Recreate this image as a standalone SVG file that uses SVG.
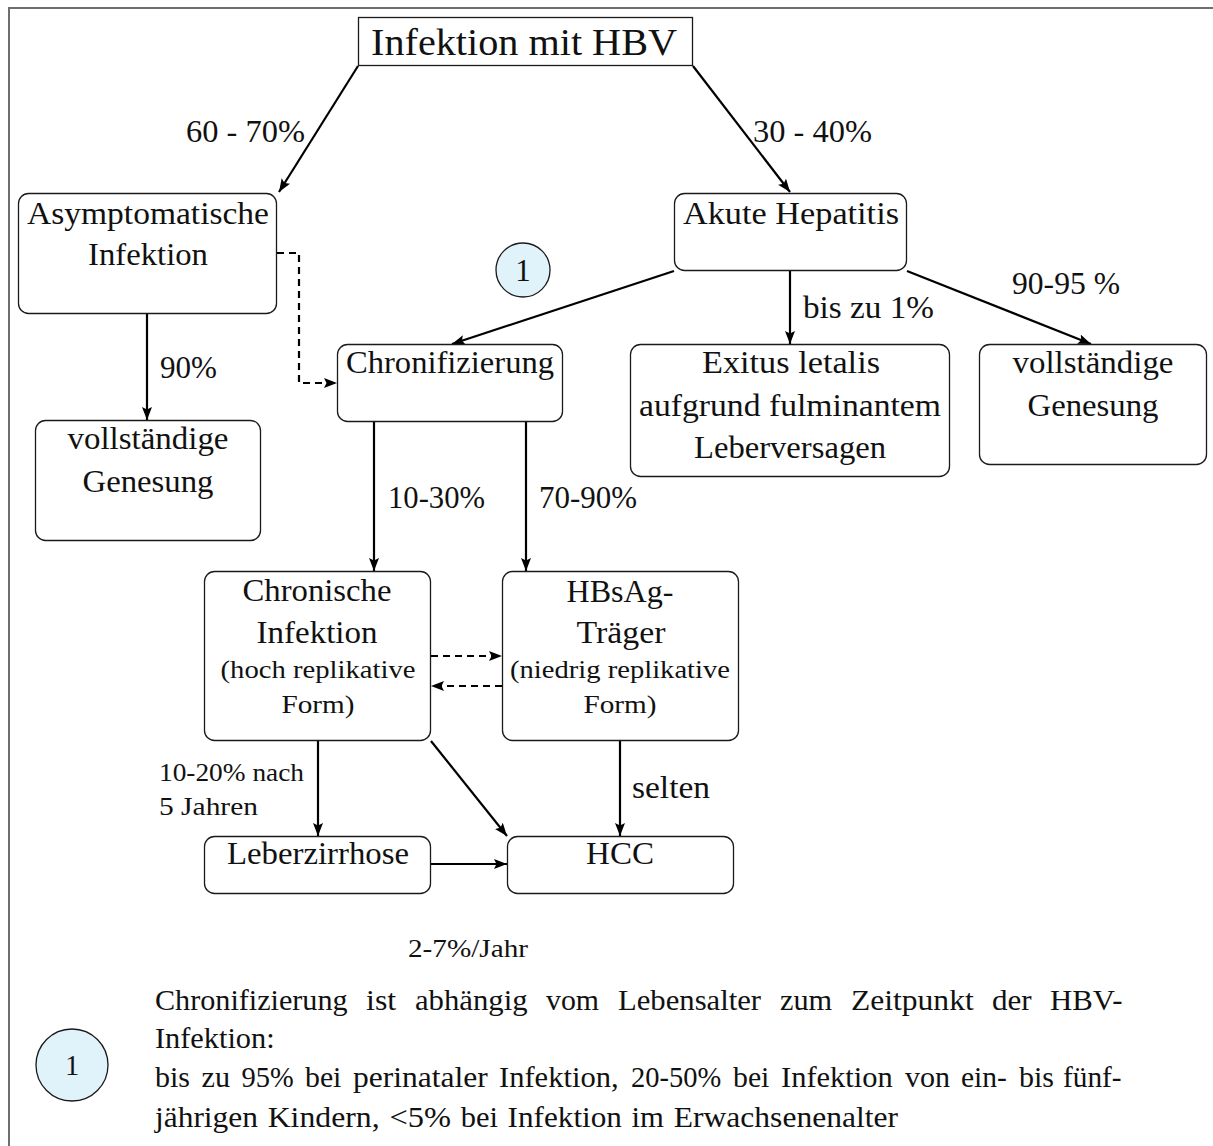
<svg xmlns="http://www.w3.org/2000/svg" width="1213" height="1146" viewBox="0 0 1213 1146">
  <style>
    .box { fill: #ffffff; stroke: #1a1a1a; stroke-width: 1.3; }
    .t { font-family: "Liberation Serif", "Times New Roman", serif; fill: #111111; }
    .xl { font-size: 37px; }
    .lg { font-size: 31px; }
    .md { font-size: 26px; }
    .fn { font-size: 28.5px; }
    .c { text-anchor: middle; }
    .edge { stroke: #000000; stroke-width: 2.2; fill: none; marker-end: url(#ah); }
    .dash { stroke-dasharray: 7 5; }
    .note { fill: #e0f2fa; stroke: #1a1a1a; stroke-width: 1.3; }
  </style>
  <defs>
    <marker id="ah" markerUnits="userSpaceOnUse" markerWidth="14" markerHeight="11" refX="13" refY="5" orient="auto">
      <path d="M0,0 L13,5 L0,10 L2.5,5 z" fill="#000000"/>
    </marker>
  </defs>

  <rect width="1213" height="1146" fill="#ffffff"/>
  <!-- frame (top and left edges) -->
  <path d="M9,1146 L9,8 L1213,8" fill="none" stroke="#6e6e6e" stroke-width="2"/>

  <!-- connectors -->
  <g id="connectors">
    <path class="edge" d="M358,66 L279,192"/>
    <path class="edge" d="M693,66 L790,192"/>
    <path class="edge" d="M674,271 L452,344"/>
    <path class="edge" d="M790,271 L790,344"/>
    <path class="edge" d="M907,271 L1091,344"/>
    <path class="edge" d="M147,314 L147,420"/>
    <path class="edge dash" d="M277,253 L299,253 L299,383 L337,383"/>
    <path class="edge" d="M374,422 L374,571"/>
    <path class="edge" d="M526,422 L526,571"/>
    <path class="edge dash" d="M431,656 L502,656"/>
    <path class="edge dash" d="M502,686 L431,686"/>
    <path class="edge" d="M318,741 L318,836"/>
    <path class="edge" d="M431,741 L507,836"/>
    <path class="edge" d="M620,741 L620,836"/>
    <path class="edge" d="M431,864 L507,864"/>
  </g>

  <!-- edge labels -->
  <g id="edge-labels">
    <text class="t lg" x="186" y="142" textLength="119" lengthAdjust="spacingAndGlyphs">60 - 70%</text>
    <text class="t lg" x="753" y="142" textLength="119" lengthAdjust="spacingAndGlyphs">30 - 40%</text>
    <text class="t lg" x="803" y="318" textLength="131" lengthAdjust="spacingAndGlyphs">bis zu 1%</text>
    <text class="t lg" x="1012" y="294" textLength="108" lengthAdjust="spacingAndGlyphs">90-95 %</text>
    <text class="t lg" x="160" y="378" textLength="57" lengthAdjust="spacingAndGlyphs">90%</text>
    <text class="t lg" x="388" y="508" textLength="97" lengthAdjust="spacingAndGlyphs">10-30%</text>
    <text class="t lg" x="539" y="508" textLength="98" lengthAdjust="spacingAndGlyphs">70-90%</text>
    <text class="t md" x="159" y="781" textLength="145" lengthAdjust="spacingAndGlyphs">10-20% nach</text>
    <text class="t md" x="159" y="815" textLength="99" lengthAdjust="spacingAndGlyphs">5 Jahren</text>
    <text class="t lg" x="632" y="798" textLength="78" lengthAdjust="spacingAndGlyphs">selten</text>
    <text class="t md" x="408" y="957" textLength="120" lengthAdjust="spacingAndGlyphs">2-7%/Jahr</text>
  </g>

  <!-- nodes -->
  <g id="infektion-hbv">
    <rect x="358.5" y="17.5" width="334" height="48" fill="#ffffff" stroke="#1a1a1a" stroke-width="1.3"/>
    <text class="t xl c" x="524" y="55" textLength="306" lengthAdjust="spacingAndGlyphs">Infektion mit HBV</text>
  </g>

  <g id="asymptomatisch">
    <rect class="box" x="18.5" y="193.5" width="258" height="120" rx="10"/>
    <text class="t lg c" x="148" y="224" textLength="242" lengthAdjust="spacingAndGlyphs">Asymptomatische</text>
    <text class="t lg c" x="148" y="265" textLength="120" lengthAdjust="spacingAndGlyphs">Infektion</text>
  </g>

  <g id="akute-hepatitis">
    <rect class="box" x="674.5" y="193.5" width="232" height="77" rx="10"/>
    <text class="t lg c" x="791" y="224" textLength="216" lengthAdjust="spacingAndGlyphs">Akute Hepatitis</text>
  </g>

  <g id="marker-1">
    <circle class="note" cx="523" cy="270" r="27"/>
    <text class="t lg c" x="523" y="281">1</text>
  </g>

  <g id="chronifizierung">
    <rect class="box" x="337.5" y="344.5" width="225" height="77" rx="10"/>
    <text class="t lg c" x="450" y="373" textLength="208" lengthAdjust="spacingAndGlyphs">Chronifizierung</text>
  </g>

  <g id="exitus">
    <rect class="box" x="630.5" y="344.5" width="319" height="132" rx="10"/>
    <text class="t lg c" x="791" y="373" textLength="178" lengthAdjust="spacingAndGlyphs">Exitus letalis</text>
    <text class="t lg c" x="790" y="416" textLength="302" lengthAdjust="spacingAndGlyphs">aufgrund fulminantem</text>
    <text class="t lg c" x="790" y="458" textLength="192" lengthAdjust="spacingAndGlyphs">Leberversagen</text>
  </g>

  <g id="genesung-akut">
    <rect class="box" x="979.5" y="344.5" width="227" height="120" rx="10"/>
    <text class="t lg c" x="1093" y="373" textLength="161" lengthAdjust="spacingAndGlyphs">vollständige</text>
    <text class="t lg c" x="1093" y="416" textLength="131" lengthAdjust="spacingAndGlyphs">Genesung</text>
  </g>

  <g id="genesung-asymptomatisch">
    <rect class="box" x="35.5" y="420.5" width="225" height="120" rx="10"/>
    <text class="t lg c" x="148" y="449" textLength="161" lengthAdjust="spacingAndGlyphs">vollständige</text>
    <text class="t lg c" x="148" y="492" textLength="131" lengthAdjust="spacingAndGlyphs">Genesung</text>
  </g>

  <g id="chronische-infektion">
    <rect class="box" x="204.5" y="571.5" width="226" height="169" rx="10"/>
    <text class="t lg c" x="317" y="601" textLength="149" lengthAdjust="spacingAndGlyphs">Chronische</text>
    <text class="t lg c" x="317" y="643" textLength="121" lengthAdjust="spacingAndGlyphs">Infektion</text>
    <text class="t md c" x="318" y="678" textLength="195" lengthAdjust="spacingAndGlyphs">(hoch replikative</text>
    <text class="t md c" x="318" y="713" textLength="73" lengthAdjust="spacingAndGlyphs">Form)</text>
  </g>

  <g id="hbsag-traeger">
    <rect class="box" x="502.5" y="571.5" width="236" height="169" rx="10"/>
    <text class="t lg c" x="620" y="602" textLength="107" lengthAdjust="spacingAndGlyphs">HBsAg-</text>
    <text class="t lg c" x="621" y="643" textLength="89" lengthAdjust="spacingAndGlyphs">Träger</text>
    <text class="t md c" x="620" y="678" textLength="220" lengthAdjust="spacingAndGlyphs">(niedrig replikative</text>
    <text class="t md c" x="620" y="713" textLength="73" lengthAdjust="spacingAndGlyphs">Form)</text>
  </g>

  <g id="leberzirrhose">
    <rect class="box" x="204.5" y="836.5" width="226" height="57" rx="10"/>
    <text class="t lg c" x="318" y="864" textLength="182" lengthAdjust="spacingAndGlyphs">Leberzirrhose</text>
  </g>

  <g id="hcc">
    <rect class="box" x="507.5" y="836.5" width="226" height="57" rx="10"/>
    <text class="t lg c" x="620" y="864" textLength="68" lengthAdjust="spacingAndGlyphs">HCC</text>
  </g>

  <!-- footnote: justified paragraph, words placed individually -->
  <g id="footnote">
    <circle class="note" cx="72" cy="1065" r="36"/>
    <text class="t fn c" x="72" y="1075">1</text>
    <text class="t fn" y="1010" lengthAdjust="spacingAndGlyphs"><tspan x="155" textLength="192.6" lengthAdjust="spacingAndGlyphs">Chronifizierung</tspan><tspan x="366" textLength="30.2" lengthAdjust="spacingAndGlyphs">ist</tspan><tspan x="415" textLength="112.5" lengthAdjust="spacingAndGlyphs">abhängig</tspan><tspan x="546" textLength="53" lengthAdjust="spacingAndGlyphs">vom</tspan><tspan x="618" textLength="143.1" lengthAdjust="spacingAndGlyphs">Lebensalter</tspan><tspan x="780" textLength="52.2" lengthAdjust="spacingAndGlyphs">zum</tspan><tspan x="851" textLength="122.7" lengthAdjust="spacingAndGlyphs">Zeitpunkt</tspan><tspan x="992" textLength="39.7" lengthAdjust="spacingAndGlyphs">der</tspan><tspan x="1050" textLength="72.4" lengthAdjust="spacingAndGlyphs">HBV-</tspan></text>
    <text class="t fn" x="155" y="1048" textLength="119.6" lengthAdjust="spacingAndGlyphs">Infektion:</text>
    <text class="t fn" y="1087"><tspan x="155" textLength="35" lengthAdjust="spacingAndGlyphs">bis</tspan><tspan x="201.5" textLength="28.5" lengthAdjust="spacingAndGlyphs">zu</tspan><tspan x="241.5" textLength="52.2" lengthAdjust="spacingAndGlyphs">95%</tspan><tspan x="305" textLength="36.4" lengthAdjust="spacingAndGlyphs">bei</tspan><tspan x="353" textLength="134.8" lengthAdjust="spacingAndGlyphs">perinataler</tspan><tspan x="499" textLength="119.6" lengthAdjust="spacingAndGlyphs">Infektion,</tspan><tspan x="631" textLength="90.2" lengthAdjust="spacingAndGlyphs">20-50%</tspan><tspan x="733" textLength="36.4" lengthAdjust="spacingAndGlyphs">bei</tspan><tspan x="781" textLength="111.7" lengthAdjust="spacingAndGlyphs">Infektion</tspan><tspan x="905" textLength="45.1" lengthAdjust="spacingAndGlyphs">von</tspan><tspan x="961" textLength="45.9" lengthAdjust="spacingAndGlyphs">ein-</tspan><tspan x="1019" textLength="35" lengthAdjust="spacingAndGlyphs">bis</tspan><tspan x="1063" textLength="58.6" lengthAdjust="spacingAndGlyphs">fünf-</tspan></text>
    <text class="t fn" y="1127"><tspan x="155" textLength="103" lengthAdjust="spacingAndGlyphs">jährigen</tspan><tspan x="267.7" textLength="111.9" lengthAdjust="spacingAndGlyphs">Kindern,</tspan><tspan x="389.4" textLength="61.6" lengthAdjust="spacingAndGlyphs">&lt;5%</tspan><tspan x="460.7" textLength="37.2" lengthAdjust="spacingAndGlyphs">bei</tspan><tspan x="507.6" textLength="114.3" lengthAdjust="spacingAndGlyphs">Infektion</tspan><tspan x="631.6" textLength="32.4" lengthAdjust="spacingAndGlyphs">im</tspan><tspan x="673.8" textLength="224.2" lengthAdjust="spacingAndGlyphs">Erwachsenenalter</tspan></text>
  </g>
</svg>
